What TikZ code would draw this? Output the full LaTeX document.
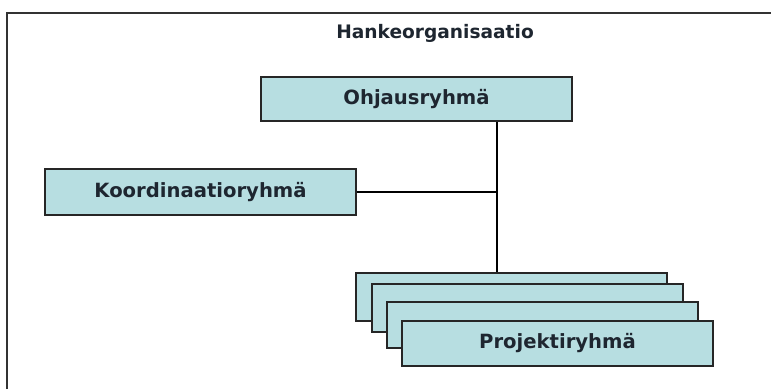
\documentclass[tikz,border=0pt]{standalone}
\usepackage{fontspec}
\setmainfont{DejaVu Sans}
\definecolor{boxfill}{RGB}{183,222,225}
\definecolor{ink}{RGB}{30,38,48}
\begin{document}
\begin{tikzpicture}[x=1pt,y=-1pt,
  orgbox/.style={draw=black!85, line width=1.6pt, fill=boxfill,
    minimum width=311pt, inner sep=0pt, font=\bfseries\fontsize{19.6}{22}\selectfont, text=ink},
  link/.style={draw=black, line width=1.3pt}]
  \useasboundingbox (0,0) rectangle (771,389);
  % open frame: top and left edges only
  \coordinate (ftl) at (7,13);
  \coordinate (ftr) at (771,13);
  \coordinate (fbl) at (7,389);
  \draw[line width=1.8pt, black!80] (fbl) -- (ftl) -- (ftr);
  \node[font=\bfseries\fontsize{18.6}{21}\selectfont, text=ink] (title) at (435,33) {Hankeorganisaatio};
  % steering group
  \node[orgbox, minimum height=44pt] (ohj) at (416.5,99) {Ohjausryhmä};
  % coordination group
  \node[orgbox, minimum height=46pt] (koord) at (200.5,192) {Koordinaatioryhmä};
  % stacked project groups
  \node[orgbox, minimum height=48pt] (p1) at (511.5,297) {};
  \node[orgbox, minimum height=48pt] (p2) at (527.5,308) {};
  \node[orgbox, minimum height=46pt] (p3) at (542.5,325) {};
  \node[orgbox, minimum height=45pt] (p4) at (557.5,343.5) {Projektiryhmä};
  % connectors
  \coordinate (j) at (497,192);
  \draw[link] (ohj.south -| j) -- (p1.north -| j);
  \draw[link] (koord.east) -- (j);
\end{tikzpicture}
\end{document}
